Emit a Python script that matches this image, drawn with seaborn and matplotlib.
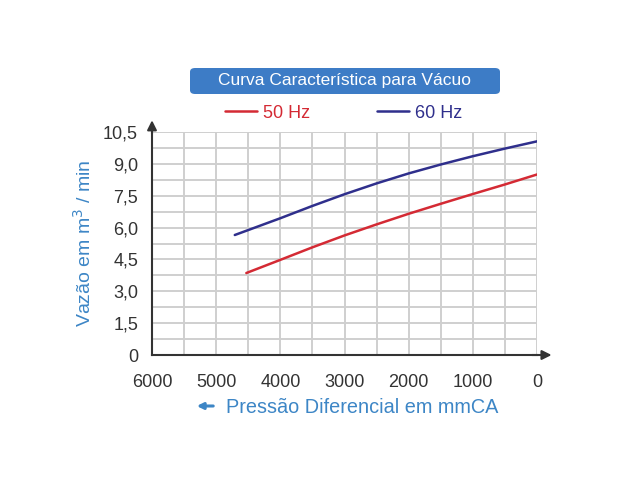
import pandas as pd
import seaborn as sns
import matplotlib.pyplot as plt
from matplotlib.patches import FancyBboxPatch, FancyArrowPatch

# Curve data (pressure in mmCA, flow in m3/min)
pressure_50 = [4530, 4000, 3500, 3000, 2500, 2000, 1500, 1000, 500, 0]
flow_50 = [3.86, 4.48, 5.07, 5.63, 6.15, 6.65, 7.12, 7.58, 8.03, 8.50]
pressure_60 = [4710, 4000, 3500, 3000, 2500, 2000, 1500, 1000, 500, 0]
flow_60 = [5.65, 6.44, 7.02, 7.57, 8.08, 8.55, 8.97, 9.36, 9.72, 10.06]

x_ticks = [6000, 5000, 4000, 3000, 2000, 1000, 0]
y_ticks = [0, 1.5, 3.0, 4.5, 6.0, 7.5, 9.0, 10.5]
y_labels = ["0", "1,5", "3,0", "4,5", "6,0", "7,5", "9,0", "10,5"]

df = pd.concat([
    pd.DataFrame({"pressao": pressure_50, "vazao": flow_50, "freq": "50 Hz"}),
    pd.DataFrame({"pressao": pressure_60, "vazao": flow_60, "freq": "60 Hz"}),
])

sns.set_theme(style="white")
plt.rcParams['font.family'] = ['Liberation Sans', 'DejaVu Sans']

red = "#d42a34"
navy = "#2f2f8c"
label_blue = "#3d86c6"
axis_col = "#333333"

fig = plt.figure(figsize=(6.4, 4.8), dpi=100)
ax = fig.add_axes([0.2375, 0.2604, 0.6016, 0.4646])

sns.lineplot(data=df, x="pressao", y="vazao", hue="freq", sort=False,
             palette={"50 Hz": red, "60 Hz": navy}, linewidth=1.8, ax=ax)

ax.set_xlim(6000, 0)
ax.set_ylim(0, 10.5)
ax.set_xticks(x_ticks)
ax.set_xticklabels([str(t) for t in x_ticks])
ax.set_xticks(range(500, 6000, 1000), minor=True)
ax.set_yticks(y_ticks)
ax.set_yticklabels(y_labels)
ax.set_yticks([0.75 + 1.5 * i for i in range(7)], minor=True)
ax.grid(True, which="both", color="#cfcfcf", linewidth=1.4)
ax.set_axisbelow(True)
ax.tick_params(which="major", direction="out", length=4, width=1.2,
               color=axis_col, labelsize=13, labelcolor="#333333")
ax.tick_params(which="minor", length=0)
ax.tick_params(axis="x", pad=10)
ax.tick_params(axis="y", pad=6)

for s in ["top", "right"]:
    ax.spines[s].set_visible(False)
for s in ["left", "bottom"]:
    ax.spines[s].set_color(axis_col)
    ax.spines[s].set_linewidth(1.5)

# axis arrows
arrow = dict(arrowstyle="-|>", color=axis_col, lw=1.5, mutation_scale=14)
ax.annotate("", xy=(1.045, 0), xytext=(0.98, 0), xycoords="axes fraction",
            arrowprops=arrow, annotation_clip=False)
ax.annotate("", xy=(0, 1.065), xytext=(0, 0.98), xycoords="axes fraction",
            arrowprops=arrow, annotation_clip=False)

ax.set_ylabel("Vazão em m$^3$ / min", color=label_blue, fontsize=14)
ax.yaxis.set_label_coords(-0.148, 0.5)
ax.set_xlabel("Pressão Diferencial em mmCA", color=label_blue, fontsize=14.3)
ax.xaxis.set_label_coords(0.547, -0.193)
fig.add_artist(FancyArrowPatch(
    (216 / 640, 1 - 406 / 480), (194 / 640, 1 - 406 / 480),
    transform=fig.transFigure, arrowstyle="-|>", mutation_scale=9,
    color=label_blue, lw=2.2))

leg = ax.legend(loc="center left", bbox_to_anchor=(0.19, 1.085), ncol=2,
                frameon=False, fontsize=13, handlelength=1.75,
                columnspacing=3.7, handletextpad=0.35, borderpad=0,
                borderaxespad=0)
for txt, c in zip(leg.get_texts(), [red, navy]):
    txt.set_color(c)

# title box
box = FancyBboxPatch((190 / 640, 1 - 94 / 480), 310 / 640, 26 / 480,
                     boxstyle="round,pad=0,rounding_size=0.008",
                     transform=fig.transFigure, facecolor="#3d7cc6",
                     edgecolor="none")
fig.patches.append(box)
fig.text(345 / 640, 1 - 81 / 480, "Curva Característica para Vácuo",
         color="white", fontsize=12.5, ha="center", va="center")

fig.savefig("out.png", dpi=100)
